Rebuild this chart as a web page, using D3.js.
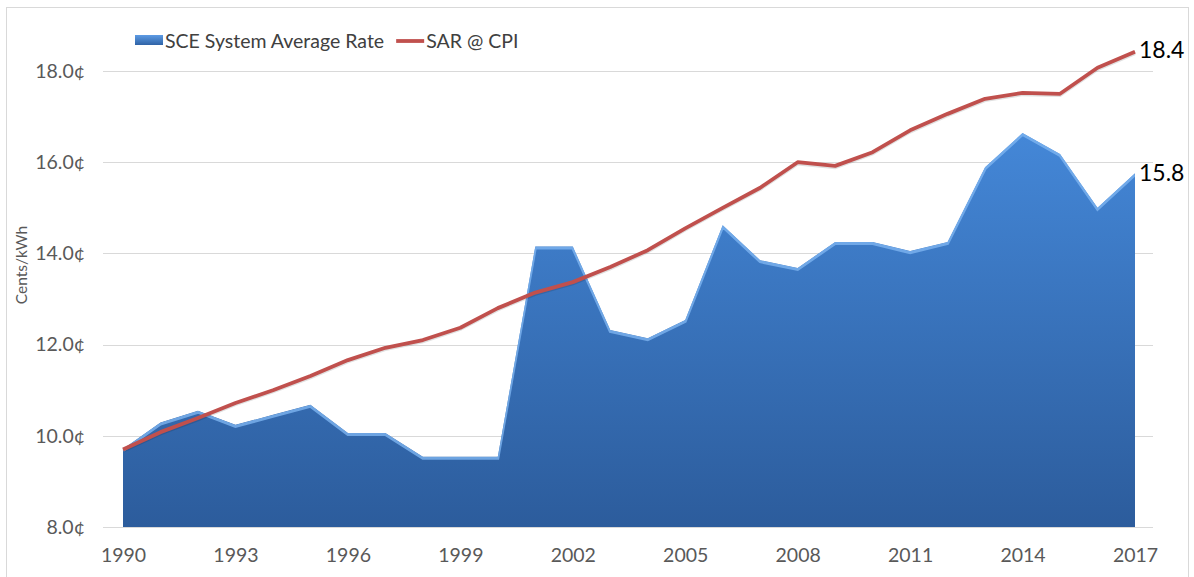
<!DOCTYPE html>
<html>
<head>
<meta charset="utf-8">
<script src="https://cdn.jsdelivr.net/npm/d3@7"></script>
<style>
  html, body { margin: 0; padding: 0; background: #fff; }
  svg { display: block; font-family: Lato, "Open Sans", sans-serif; }
</style>
</head>
<body>
<svg id="chart" width="1194" height="577"></svg>
<script>
const years = [1990,1991,1992,1993,1994,1995,1996,1997,1998,1999,2000,2001,2002,2003,2004,2005,2006,2007,2008,2009,2010,2011,2012,2013,2014,2015,2016,2017];
const sceRate = [9.71,10.29,10.55,10.24,10.46,10.68,10.06,10.06,9.54,9.54,9.54,14.15,14.15,12.32,12.14,12.54,14.62,13.85,13.68,14.25,14.25,14.05,14.25,15.89,16.64,16.18,15.0,15.76];
const sarCpi = [9.7,10.08,10.39,10.72,11.0,11.31,11.66,11.93,12.1,12.37,12.8,13.14,13.37,13.7,14.07,14.55,15.0,15.44,16.0,15.92,16.22,16.7,17.06,17.39,17.52,17.5,18.07,18.42];
const xTickYears = [1990,1993,1996,1999,2002,2005,2008,2011,2014,2017];
const yTicks = [8,10,12,14,16,18];
const seriesNames = ["SCE System Average Rate", "SAR @ CPI"];
const endLabels = ["15.8", "18.4"];
const yTitle = "Cents/kWh";

const svg = d3.select("#chart");
const x = d3.scaleLinear().domain([1990, 2017]).range([123, 1135]);
const y = d3.scaleLinear().domain([8, 18]).range([527, 71]);
const gridX0 = 103, gridX1 = 1153;

// outer border
svg.append("rect").attr("x", 6.5).attr("y", 7.5).attr("width", 1182).attr("height", 600)
  .attr("fill", "#fff").attr("stroke", "#d9d9d9").attr("stroke-width", 1);

const defs = svg.append("defs");
const grad = defs.append("linearGradient").attr("id", "areaGrad")
  .attr("gradientUnits", "userSpaceOnUse").attr("x1", 0).attr("x2", 0)
  .attr("y1", y(17)).attr("y2", y(8));
grad.append("stop").attr("offset", "0%").attr("stop-color", "#4589da");
grad.append("stop").attr("offset", "100%").attr("stop-color", "#2c5c9c");

const clip = defs.append("clipPath").attr("id", "areaClip");
const data = years.map((yr, i) => ({ yr, sce: sceRate[i], cpi: sarCpi[i] }));

// gridlines
svg.append("g").selectAll("line").data(yTicks).join("line")
  .attr("x1", gridX0).attr("x2", gridX1)
  .attr("y1", d => Math.round(y(d)) + 0.5).attr("y2", d => Math.round(y(d)) + 0.5)
  .attr("stroke", "#d9d9d9").attr("stroke-width", 1);

// y axis labels
const yAxis = d3.axisLeft(y).tickValues(yTicks).tickSize(0).tickPadding(0)
  .tickFormat(d => d3.format(".1f")(d) + "\u00a2");
const gy = svg.append("g").attr("transform", "translate(85,0)").call(yAxis);
gy.select(".domain").remove();
gy.selectAll("text").attr("fill", "#595959").style("font-size", "19.5px")
  .style("font-family", "Lato, 'Open Sans', sans-serif");

// x axis labels
const xAxis = d3.axisBottom(x).tickValues(xTickYears).tickSize(0).tickPadding(0)
  .tickFormat(d3.format("d"));
const gx = svg.append("g").attr("transform", "translate(0,548)").call(xAxis);
gx.select(".domain").remove();
gx.selectAll("text").attr("fill", "#595959").style("font-size", "19.5px")
  .style("font-family", "Lato, 'Open Sans', sans-serif");

// y title
svg.append("text").attr("transform", `translate(27,${265}) rotate(-90)`)
  .attr("text-anchor", "middle").attr("fill", "#595959")
  .style("font-size", "15.5px").text(yTitle);

// area
const area = d3.area().x(d => x(d.yr)).y0(y(8)).y1(d => y(d.sce));
const areaPath = area(data);
clip.append("path").attr("d", areaPath);
svg.append("path").attr("d", areaPath).attr("fill", "url(#areaGrad)");
// bevel highlight along top edge
const topLine = d3.line().x(d => x(d.yr)).y(d => y(d.sce));
svg.append("g").attr("clip-path", "url(#areaClip)")
  .append("path").attr("d", topLine(data))
  .attr("transform", "translate(0,1.5)")
  .attr("fill", "none").attr("stroke", "#7db4f0").attr("stroke-width", 3).attr("opacity", 0.8);

// red line
const line = d3.line().x(d => x(d.yr)).y(d => y(d.cpi));
svg.append("path").attr("d", line(data)).attr("transform", "translate(0,1.5)")
  .attr("fill", "none").attr("stroke", "rgba(0,0,0,0.12)").attr("stroke-width", 3.5);
svg.append("path").attr("d", line(data))
  .attr("fill", "none").attr("stroke", "#c0504d").attr("stroke-width", 3.8)
  .attr("stroke-linejoin", "round");

// end labels
const last = data[data.length - 1];
svg.append("text").attr("x", x(last.yr) + 4).attr("y", y(last.sce)).attr("dy", "0.36em")
  .attr("fill", "#000").style("font-size", "23px").text(endLabels[0]);
svg.append("text").attr("x", x(last.yr) + 4).attr("y", y(last.cpi) - 2).attr("dy", "0.36em")
  .attr("fill", "#000").style("font-size", "23px").text(endLabels[1]);

// legend
const lgGrad = defs.append("linearGradient").attr("id", "legGrad").attr("x1", 0).attr("x2", 0).attr("y1", 0).attr("y2", 1);
lgGrad.append("stop").attr("offset", "0%").attr("stop-color", "#5d9be4");
lgGrad.append("stop").attr("offset", "100%").attr("stop-color", "#2f63a6");
const lg = svg.append("g");
lg.append("rect").attr("x", 135).attr("y", 35).attr("width", 28).attr("height", 10)
  .attr("fill", "url(#legGrad)");
const t1 = lg.append("text").attr("x", 165).attr("y", 41).attr("dy", "0.35em").attr("fill", "#404040")
  .style("font-size", "19.5px").text(seriesNames[0]);
const w1 = t1.node().getComputedTextLength();
const lx = 165 + w1 + 12;
lg.append("line").attr("x1", lx).attr("x2", lx + 28).attr("y1", 41).attr("y2", 41)
  .attr("stroke", "#c0504d").attr("stroke-width", 3.8);
lg.append("text").attr("x", lx + 30).attr("y", 41).attr("dy", "0.35em").attr("fill", "#404040")
  .style("font-size", "19.5px").text(seriesNames[1]);
</script>
</body>
</html>
